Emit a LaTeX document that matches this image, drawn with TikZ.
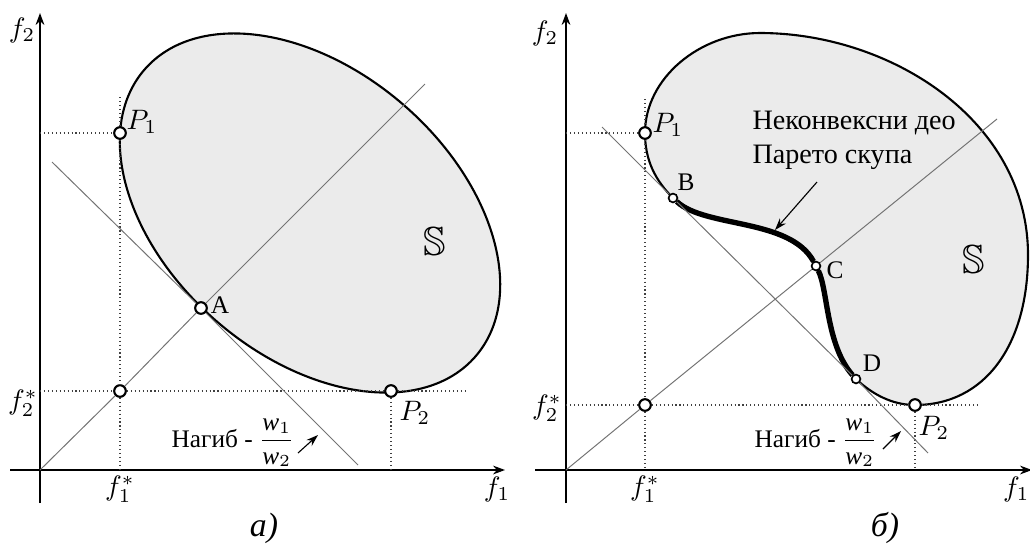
\documentclass[tikz,border=0pt]{standalone}
\usepackage{fontspec}
\setmainfont{Liberation Serif}
\usepackage{amsmath}
\usepackage{amssymb}
\usetikzlibrary{arrows.meta, positioning}

\begin{document}
\begin{tikzpicture}[
		x=0.0125cm, y=-0.0125cm,
		axis/.style={-{Stealth[length=1.5mm, width=1.1mm]}, line width=0.5pt},
		guide/.style={densely dotted, line width=0.4pt, black!75},
		aux/.style={line width=0.35pt, black!55},
		region/.style={fill=black!8, draw, line width=0.75pt},
		front/.style={line width=1.9pt},
		pt/.style={circle, draw, fill=white, line width=0.75pt, inner sep=0pt, minimum size=1.45mm},
		spt/.style={circle, draw, fill=white, line width=0.6pt, inner sep=0pt, minimum size=1.1mm},
		lbl/.style={font=\normalsize, inner sep=1pt},
		plbl/.style={font=\small, inner sep=1pt},
		panelcap/.style={font=\large\itshape, inner sep=1pt},
		arr/.style={-{Stealth[length=1.5mm, width=1mm]}, line width=0.4pt}
	]
	\useasboundingbox (0,0) rectangle (1030,543);

	\draw[region, rotate around={-40.9:(310,213)}] (310,213) ellipse (219 and 143);

	\coordinate (xs1) at (10,470);
	\coordinate (xe1) at (505,470);
	\coordinate (ys1) at (40,503);
	\coordinate (ye1) at (40,13);
	\coordinate (o1) at (40,470);
	\draw[axis] (xs1) -- (xe1);
	\draw[axis] (ys1) -- (ye1);

	\node[pt] (P1a) at (120,133) {};
	\node[pt] (Ia) at (120,391) {};
	\node[pt] (P2a) at (391,391) {};
	\node[pt] (A) at (201,308) {};

	\coordinate (h1a) at (40,133);
	\coordinate (v1a) at (120,97);
	\coordinate (v1b) at (120,470);
	\coordinate (h2a) at (40,391);
	\coordinate (h2b) at (466,391);
	\coordinate (v2b) at (391,470);
	\draw[guide] (h1a) -- (P1a);
	\draw[guide] (v1a) -- (P1a) -- (Ia) -- (v1b);
	\draw[guide] (h2a) -- (Ia) -- (P2a) -- (h2b);
	\draw[guide] (P2a) -- (v2b);

	\coordinate (d1) at (425,84);
	\coordinate (ts1) at (52,162);
	\coordinate (te1) at (358,465);
	\draw[aux] (o1) -- (Ia) -- (A) -- (d1);
	\draw[aux] (ts1) -- (A) -- (te1);

	\node[lbl] (f2a) at (22,30) {$f_2$};
	\node[lbl] (f1a) at (497,489) {$f_1$};
	\node[lbl] (f1sa) at (120,489) {$f_1^*$};
	\node[lbl] (f2sa) at (23,403) {$f_2^*$};
	\node[lbl] (lP1a) at (142,122) {$P_1$};
	\node[lbl] (lP2a) at (415,413) {$P_2$};
	\node[plbl] (lA) at (220,305) {A};
	\node[font=\Large] (Sa) at (435,242) {$\mathbb{S}$};
	\node[plbl, anchor=east, inner sep=0pt] (na) at (295,443) {Нагиб - $\dfrac{\textit{w}_1}{\textit{w}_2}$};
	\coordinate (nas) at (298,453);
	\coordinate (nae) at (318,435);
	\draw[arr] (nas) -- (nae);
	\node[panelcap] (capa) at (264,528) {а)};

	\coordinate (p1) at (645,133);
	\coordinate (b) at (673,198);
	\coordinate (c) at (816,266);
	\coordinate (d) at (856,379);
	\coordinate (p2) at (915,405);
	\draw[region] (p1) .. controls (645,78) and (700,33) .. (760,33)
		.. controls (890,33) and (1028,120) .. (1028,255)
		.. controls (1028,345) and (985,405) .. (p2)
		.. controls (892,405) and (872,394) .. (d)
		.. controls (826,345) and (828,290) .. (c)
		.. controls (790,218) and (705,228) .. (b)
		.. controls (655,180) and (645,160) .. cycle;

	\coordinate (xs2) at (535,470);
	\coordinate (xe2) at (1032,470);
	\coordinate (ys2) at (566,503);
	\coordinate (ye2) at (566,13);
	\coordinate (o2) at (566,470);
	\draw[axis] (xs2) -- (xe2);
	\draw[axis] (ys2) -- (ye2);

	\node[pt] (P1b) at (p1) {};
	\node[pt] (Ib) at (645,405) {};
	\node[pt] (P2b) at (p2) {};
	\node[spt] (B) at (b) {};
	\node[spt] (C) at (c) {};
	\node[spt] (D) at (d) {};

	\draw[front] (D) .. controls (826,345) and (828,290) .. (C)
		.. controls (790,218) and (705,228) .. (B);

	\coordinate (h1b) at (566,133);
	\coordinate (v3a) at (645,99);
	\coordinate (v3b) at (645,470);
	\coordinate (h3a) at (566,405);
	\coordinate (h3b) at (980,405);
	\coordinate (v4b) at (915,470);
	\draw[guide] (h1b) -- (P1b);
	\draw[guide] (v3a) -- (P1b) -- (Ib) -- (v3b);
	\draw[guide] (h3a) -- (Ib) -- (P2b) -- (h3b);
	\draw[guide] (P2b) -- (v4b);

	\coordinate (d2) at (997,119);
	\coordinate (ts2) at (602,127);
	\coordinate (te2) at (928,453);
	\draw[aux] (o2) -- (Ib) -- (C) -- (d2);
	\draw[aux] (ts2) -- (B) -- (D) -- (te2);

	\node[lbl] (f2b) at (545,33) {$f_2$};
	\node[lbl, anchor=east, inner sep=0pt] (f1b) at (1030,489) {$f_1$};
	\node[lbl] (f1sb) at (645,489) {$f_1^*$};
	\node[lbl] (f2sb) at (547,408) {$f_2^*$};
	\node[lbl] (lP1b) at (668,125) {$P_1$};
	\node[lbl] (lP2b) at (934,428) {$P_2$};
	\node[plbl] (lB) at (686,182) {B};
	\node[plbl] (lC) at (835,270) {C};
	\node[plbl] (lD) at (872,363) {D};
	\node[font=\Large] (Sb) at (974,260) {$\mathbb{S}$};
	\node[align=left, anchor=west, inner sep=0pt] (nk) at (752,140) {Неконвексни део\\Парето скупа};
	\coordinate (nks) at (817,182);
	\coordinate (nke) at (775,230);
	\draw[arr] (nks) -- (nke);
	\node[plbl, anchor=east, inner sep=0pt] (nb) at (878,443) {Нагиб - $\dfrac{\textit{w}_1}{\textit{w}_2}$};
	\coordinate (nbs) at (883,449);
	\coordinate (nbe) at (901,431);
	\draw[arr] (nbs) -- (nbe);
	\node[panelcap] (capb) at (885,528) {б)};
\end{tikzpicture}
\end{document}
